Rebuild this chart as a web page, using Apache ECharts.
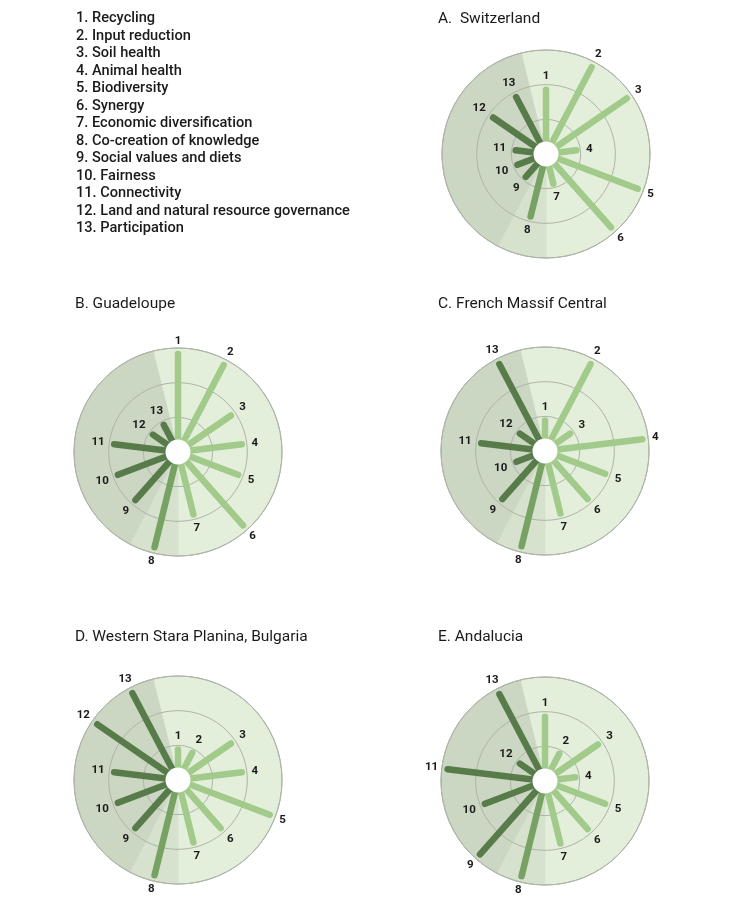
<!DOCTYPE html>
<html>
<head>
<meta charset="utf-8">
<script src="https://cdn.jsdelivr.net/npm/echarts@6.0.0/dist/echarts.min.js"></script>
<style>
  html, body { margin: 0; padding: 0; background: #fff; }
  #chart { width: 750px; height: 907px; }
</style>
</head>
<body>
<div id="chart"></div>
<script>
// 13 agroecology principles, one bar each
const categories = ['1', '2', '3', '4', '5', '6', '7', '8', '9', '10', '11', '12', '13']
const criteria = [
  '1. Recycling',
  '2. Input reduction',
  '3. Soil health',
  '4. Animal health',
  '5. Biodiversity',
  '6. Synergy',
  '7. Economic diversification',
  '8. Co-creation of knowledge',
  '9. Social values and diets',
  '10. Fairness',
  '11. Connectivity',
  '12. Land and natural resource governance',
  '13. Participation'
]
const groups = ['env', 'env', 'env', 'env', 'env', 'env', 'env', 'mid', 'soc', 'soc', 'soc', 'soc', 'soc']

// scores (1-3)
const switzerland = [2, 3, 3, 1, 3, 3, 1, 2, 1, 1, 1, 2, 2]
const guadeloupe = [3, 3, 2, 2, 2, 3, 2, 3, 2, 2, 2, 1, 1]
const massifCentral = [1, 3, 1, 3, 2, 2, 2, 3, 2, 1, 2, 1, 3]
const staraPlanina = [1, 1, 2, 2, 3, 2, 2, 3, 2, 2, 2, 3, 3]
const andalucia = [2, 1, 2, 1, 2, 2, 2, 3, 3, 2, 3, 1, 3]

const panelTitles = [
  'A.  Switzerland',
  'B. Guadeloupe',
  'C. French Massif Central',
  'D. Western Stara Planina, Bulgaria',
  'E. Andalucia'
]
const panelData = [switzerland, guadeloupe, massifCentral, staraPlanina, andalucia]
const scoreMax = 3

// layout
const R = 104
const holeR = 12.5
const barWidth = 6.5
const panels = [
  { cx: 546, cy: 154, tx: 438, ty: 11 },
  { cx: 178, cy: 452, tx: 75, ty: 296 },
  { cx: 545, cy: 451, tx: 438, ty: 296 },
  { cx: 178, cy: 780, tx: 75, ty: 629 },
  { cx: 545, cy: 781, tx: 438, ty: 629 }
]

const barColors = { env: '#a2ca8a', mid: '#77a263', soc: '#587b4a' }
const bgColors = { env: '#e3efda', mid: '#d6e2cd', soc: '#cbd6c3' }
const gridColor = '#aeb4a8'
const startAngle = 90 + 360 / (categories.length * 2)

const polar = []
const angleAxis = []
const radiusAxis = []
const series = []
const title = []
const graphic = []

title.push({
  text: criteria.join('\n'),
  left: 76,
  top: 10,
  padding: 0,
  textStyle: { fontFamily: 'Roboto', fontSize: 14.6, fontWeight: 500, color: '#1a1a1a', lineHeight: 17.5 }
})

panels.forEach((p, k) => {
  const bgIdx = k * 2
  const barIdx = k * 2 + 1
  const values = panelData[k]

  title.push({
    text: panelTitles[k],
    left: p.tx,
    top: p.ty,
    padding: 0,
    textStyle: { fontFamily: 'Roboto', fontSize: 15.5, fontWeight: 'normal', color: '#1a1a1a', lineHeight: 16 }
  })

  polar.push({ center: [p.cx, p.cy], radius: [0, R] })
  polar.push({ center: [p.cx, p.cy], radius: [0, R] })

  angleAxis.push({
    polarIndex: bgIdx,
    type: 'category',
    data: categories,
    startAngle: startAngle,
    clockwise: true,
    z: 3,
    axisLine: { show: true, lineStyle: { color: gridColor, width: 1 } },
    axisTick: { show: false },
    axisLabel: { show: false },
    splitLine: { show: false }
  })
  radiusAxis.push({
    polarIndex: bgIdx,
    type: 'value',
    min: 0,
    max: scoreMax,
    interval: 1,
    z: 3,
    axisLine: { show: false },
    axisTick: { show: false },
    axisLabel: { show: false },
    splitLine: { show: true, lineStyle: { color: gridColor, width: 1 } }
  })

  angleAxis.push({
    polarIndex: barIdx,
    type: 'category',
    data: categories,
    startAngle: startAngle,
    clockwise: true,
    show: false
  })
  radiusAxis.push({
    polarIndex: barIdx,
    type: 'value',
    min: 0,
    max: 3.08,
    show: false
  })

  // background sectors per principle group
  series.push({
    type: 'bar',
    coordinateSystem: 'polar',
    polarIndex: bgIdx,
    barCategoryGap: '0%',
    silent: true,
    z: 1,
    data: categories.map((c, i) => ({
      value: scoreMax,
      itemStyle: { color: bgColors[groups[i]], borderColor: bgColors[groups[i]], borderWidth: 0.8 }
    }))
  })

  // score bars with number labels
  series.push({
    type: 'custom',
    coordinateSystem: 'polar',
    polarIndex: barIdx,
    silent: true,
    z: 5,
    data: values.map((v, i) => [v, i]),
    renderItem: (params, api) => {
      const v = api.value(0)
      const idx = api.value(1)
      const p0 = api.coord([0, idx])
      const p1 = api.coord([v, idx])
      const dx = p1[0] - p0[0]
      const dy = p1[1] - p0[1]
      const len = Math.hypot(dx, dy) || 1
      const ux = dx / len
      const uy = dy / len
      const half = barWidth / 2
      const label = categories[idx]
      const gap = 6 + Math.abs(ux) * label.length * 3.3 + Math.abs(uy) * 4
      return {
        type: 'group',
        children: [
          {
            type: 'line',
            shape: { x1: p0[0], y1: p0[1], x2: p1[0] - ux * half, y2: p1[1] - uy * half },
            style: { stroke: barColors[groups[idx]], lineWidth: barWidth, lineCap: 'round' }
          },
          {
            type: 'text',
            x: p1[0] + ux * gap,
            y: p1[1] + uy * gap,
            style: {
              text: label,
              align: 'center',
              verticalAlign: 'middle',
              fontFamily: 'Roboto',
              fontSize: 11.5,
              fontWeight: 'bold',
              fill: '#1a1a1a'
            }
          }
        ]
      }
    }
  })

  // white hole in the middle
  graphic.push({
    type: 'circle',
    shape: { cx: p.cx, cy: p.cy, r: holeR },
    style: { fill: '#ffffff' },
    z: 100,
    silent: true
  })
})

const chart = echarts.init(document.getElementById('chart'))
chart.setOption({
  animation: false,
  backgroundColor: '#ffffff',
  title: title,
  polar: polar,
  angleAxis: angleAxis,
  radiusAxis: radiusAxis,
  series: series,
  graphic: graphic
})
</script>
</body>
</html>
